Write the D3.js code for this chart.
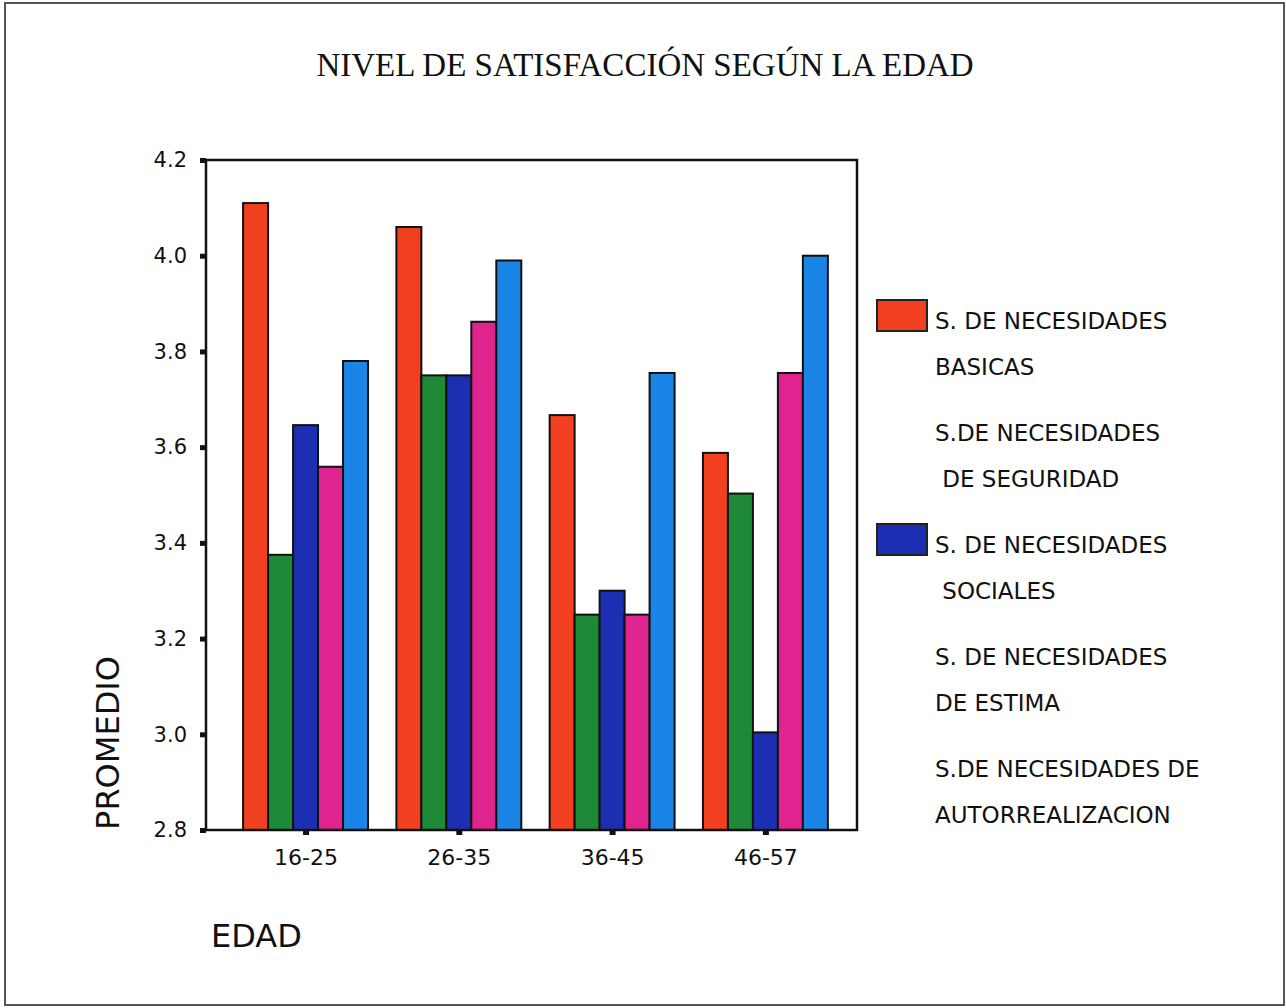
<!DOCTYPE html>
<html>
<head>
<meta charset="utf-8">
<script src="https://cdn.jsdelivr.net/npm/d3@7"></script>
<style>
  html, body { margin: 0; padding: 0; background: #fff; }
  svg { display: block; }
</style>
</head>
<body>
<svg id="chart" width="1286" height="1008"></svg>
<script>
// Age groups on the x axis
const categories = ["16-25", "26-35", "36-45", "46-57"];

// Series (one bar per series inside each age group)
const seriesKeys = ["basicas", "seguridad", "sociales", "estima", "autorrealizacion"];

// Mean satisfaction per series, in category order
const basicas          = [4.11, 4.06, 3.667, 3.588];
const seguridad        = [3.375, 3.75, 3.25, 3.503];
const sociales         = [3.646, 3.75, 3.30, 3.004];
const estima           = [3.559, 3.862, 3.25, 3.755];
const autorrealizacion = [3.78, 3.99, 3.755, 4.00];

const yTicks = [2.8, 3.0, 3.2, 3.4, 3.6, 3.8, 4.0, 4.2];

// Legend entries: text lines per series and whether a swatch is shown
const legendLines = [
  ["S. DE NECESIDADES", "BASICAS"],
  ["S.DE NECESIDADES", " DE SEGURIDAD"],
  ["S. DE NECESIDADES", " SOCIALES"],
  ["S. DE NECESIDADES", "DE ESTIMA"],
  ["S.DE NECESIDADES DE", "AUTORREALIZACION"]
];
const legendSwatch = [true, false, true, false, false];

const colors = ["#f0401f", "#1e8a38", "#1c2eb2", "#e0248f", "#1a85e6"];

const valuesBySeries = [basicas, seguridad, sociales, estima, autorrealizacion];
const table = categories.map((c, i) => ({
  cat: c,
  vals: seriesKeys.map((k, s) => ({ key: k, s, v: valuesBySeries[s][i] }))
}));

const sans = "'DejaVu Sans', Verdana, sans-serif";
const svg = d3.select("#chart");

// outer frame
svg.append("rect")
  .attr("x", 5).attr("y", 3).attr("width", 1279).attr("height", 1002)
  .attr("fill", "none").attr("stroke", "#555").attr("stroke-width", 2);

// title
svg.append("text")
  .attr("x", 645).attr("y", 76)
  .attr("text-anchor", "middle")
  .attr("font-family", "'Liberation Serif', 'Times New Roman', serif")
  .attr("font-size", 33)
  .attr("fill", "#111")
  .text("NIVEL DE SATISFACCIÓN SEGÚN LA EDAD");

const plot = { left: 206, right: 857, top: 160, bottom: 830 };

const y = d3.scaleLinear().domain([2.8, 4.2]).range([plot.bottom, plot.top]);
const x0 = d3.scaleBand().domain(categories)
  .range([plot.left, plot.right])
  .paddingInner(0.185).paddingOuter(0.216).align(0.56);
const x1 = d3.scaleBand().domain(seriesKeys).range([0, x0.bandwidth()]).padding(0);

// bars
const groups = svg.append("g").selectAll("g")
  .data(table).join("g")
  .attr("transform", d => `translate(${x0(d.cat)},0)`);

groups.selectAll("rect")
  .data(d => d.vals).join("rect")
  .attr("x", d => x1(d.key))
  .attr("y", d => y(d.v))
  .attr("width", x1.bandwidth())
  .attr("height", d => y(2.8) - y(d.v))
  .attr("fill", d => colors[d.s])
  .attr("stroke", "#111")
  .attr("stroke-width", 2);

// plot frame
svg.append("rect")
  .attr("x", plot.left).attr("y", plot.top)
  .attr("width", plot.right - plot.left).attr("height", plot.bottom - plot.top)
  .attr("fill", "none").attr("stroke", "#111").attr("stroke-width", 2.5);

// y axis with square tick marks
const yAxis = d3.axisLeft(y).tickValues(yTicks).tickFormat(d3.format(".1f"))
  .tickSize(6).tickPadding(13);
const gy = svg.append("g").attr("transform", `translate(${plot.left},0)`).call(yAxis);
gy.select(".domain").remove();
gy.selectAll(".tick line").attr("stroke", "#111").attr("stroke-width", 5);
gy.selectAll(".tick text")
  .attr("font-family", sans)
  .attr("font-size", 21).attr("fill", "#111");

// x axis with square tick marks at group centres
const xCenter = d3.scalePoint().domain(categories)
  .range([x0(categories[0]) + x0.bandwidth() / 2,
          x0(categories[categories.length - 1]) + x0.bandwidth() / 2]);
const xAxis = d3.axisBottom(xCenter).tickSize(5).tickPadding(14);
const gx = svg.append("g").attr("transform", `translate(0,${plot.bottom})`).call(xAxis);
gx.select(".domain").remove();
gx.selectAll(".tick line").attr("stroke", "#111").attr("stroke-width", 6);
gx.selectAll(".tick text")
  .attr("font-family", sans)
  .attr("font-size", 22).attr("fill", "#111");

// axis titles
svg.append("text")
  .attr("transform", "translate(119,743) rotate(-90)")
  .attr("text-anchor", "middle")
  .attr("font-family", sans)
  .attr("font-size", 32).attr("fill", "#111")
  .text("PROMEDIO");

svg.append("text")
  .attr("x", 211).attr("y", 947)
  .attr("font-family", sans)
  .attr("font-size", 32).attr("fill", "#111")
  .text("EDAD");

// legend
const legendTop = 321;
const legendStep = 112;
const lineStep = 46;
const leg = svg.append("g");
legendLines.forEach((lines, i) => {
  const cy = legendTop + i * legendStep;
  if (legendSwatch[i]) {
    leg.append("rect")
      .attr("x", 877).attr("y", cy - 21).attr("width", 50).attr("height", 31)
      .attr("fill", colors[i]).attr("stroke", "#222").attr("stroke-width", 2);
  }
  lines.forEach((t, j) => {
    leg.append("text")
      .attr("x", 935).attr("y", cy + j * lineStep + 8)
      .attr("xml:space", "preserve")
      .style("white-space", "pre")
      .attr("font-family", sans)
      .attr("font-size", 23).attr("fill", "#111")
      .text(t);
  });
});
</script>
</body>
</html>
